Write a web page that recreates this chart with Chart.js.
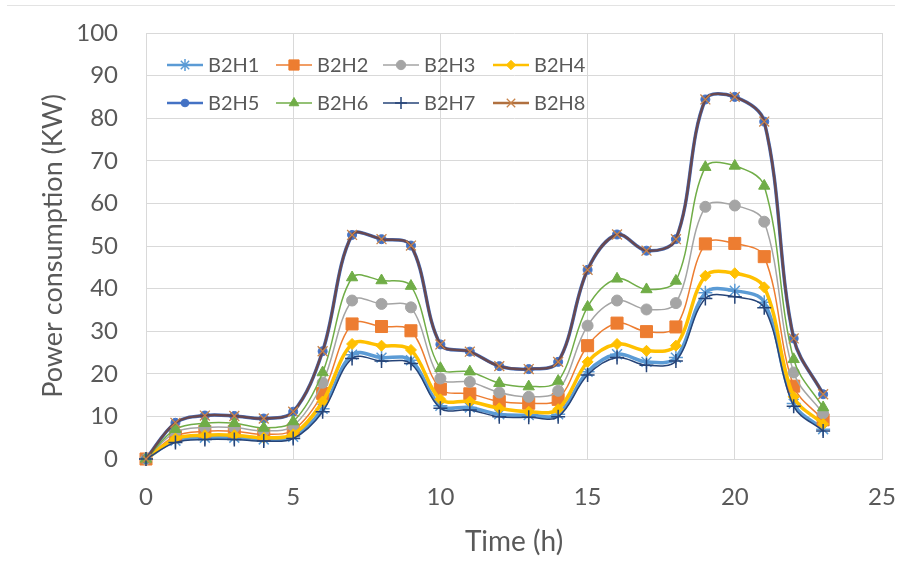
<!DOCTYPE html>
<html lang="en">
<head>
    <meta charset="UTF-8">
    <title>Power consumption</title>
    <script src="https://cdn.jsdelivr.net/npm/chart.js"></script>
    <style>
        body { margin: 0; background: #fff; }
        .wrap { position: relative; width: 903px; height: 577px; }
        .topline { position: absolute; left: 7px; right: 8px; top: 5px; height: 1px; background: #e3e3e3; }
    </style>
</head>
<body>
    <div class="wrap">
        <div class="topline"></div>
        <canvas id="powerChart" width="903" height="577"></canvas>
    </div>

    <script>
        // Hours of the day
        const hours = [0, 1, 2, 3, 4, 5, 6, 7, 8, 9, 10, 11, 12, 13, 14, 15, 16, 17, 18, 19, 20, 21, 22, 23];

        // Power consumption per building (KW)
        const b2h1 = [0, 4.3, 5.0, 5.0, 4.6, 5.2, 11.8, 24.5, 23.8, 23.2, 12.5, 12.1, 10.5, 10.3, 10.5, 20.5, 24.6, 22.8, 23.8, 39.0, 39.5, 36.8, 13.0, 7.0];
        const b2h2 = [0, 5.4, 6.5, 6.5, 5.8, 6.8, 15.4, 31.7, 31.1, 30.1, 16.4, 15.3, 13.5, 13.1, 14.0, 26.6, 31.9, 29.9, 31.0, 50.5, 50.6, 47.5, 17.1, 9.2];
        const b2h3 = [0, 6.3, 7.4, 7.4, 6.6, 7.8, 17.9, 37.2, 36.4, 35.6, 18.9, 18.1, 15.6, 14.6, 16.0, 31.3, 37.2, 35.1, 36.6, 59.2, 59.5, 55.7, 20.3, 10.7];
        const b2h4 = [0, 4.8, 5.6, 5.6, 5.0, 5.8, 13.5, 27.0, 26.6, 25.6, 14.0, 13.5, 11.9, 11.1, 11.7, 22.8, 27.0, 25.4, 26.6, 43.0, 43.6, 40.3, 14.6, 8.2];
        const b2h5 = [0, 8.5, 10.2, 10.1, 9.5, 11.1, 25.3, 52.6, 51.6, 50.1, 26.9, 25.2, 21.8, 21.1, 22.8, 44.4, 52.7, 48.9, 51.6, 84.4, 85.0, 79.2, 28.3, 15.2];
        const b2h6 = [0, 7.0, 8.4, 8.4, 7.3, 8.8, 20.3, 42.6, 41.9, 40.6, 21.3, 20.5, 17.8, 17.0, 18.3, 35.7, 42.3, 39.8, 41.8, 68.5, 68.8, 64.1, 23.4, 12.1];
        const b2h7 = [0, 3.9, 4.6, 4.6, 4.2, 4.8, 11.1, 23.6, 23.0, 22.4, 11.9, 11.5, 9.9, 9.8, 9.9, 19.7, 23.8, 22.0, 23.0, 37.7, 38.1, 35.5, 12.4, 6.6];
        const b2h8 = [0, 8.5, 10.2, 10.1, 9.5, 11.1, 25.3, 52.6, 51.6, 50.1, 26.9, 25.2, 21.8, 21.1, 22.8, 44.4, 52.7, 48.9, 51.6, 84.4, 85.0, 79.2, 28.3, 15.2];

        const seriesNames = ['B2H1', 'B2H2', 'B2H3', 'B2H4', 'B2H5', 'B2H6', 'B2H7', 'B2H8'];
        const seriesValues = [b2h1, b2h2, b2h3, b2h4, b2h5, b2h6, b2h7, b2h8];

        const xTicks = [0, 5, 10, 15, 20, 25];
        const yTicks = [0, 10, 20, 30, 40, 50, 60, 70, 80, 90, 100];

        // Look of each series (Excel style markers)
        const styles = [
            { line: '#5B9BD5', width: 3.5, point: 'star', radius: 7, fill: '#5B9BD5', stroke: '#5B9BD5', pw: 1.5 },
            { line: '#ED7D31', width: 1.5, point: 'rect', radius: 8.5, fill: '#ED7D31', stroke: '#ED7D31', pw: 1 },
            { line: '#A5A5A5', width: 1.5, point: 'circle', radius: 5.5, fill: '#A5A5A5', stroke: '#A5A5A5', pw: 1 },
            { line: '#FFC000', width: 3.5, point: 'rectRot', radius: 5.5, fill: '#FFC000', stroke: '#FFC000', pw: 1 },
            { line: '#4472C4', width: 3.5, point: 'circle', radius: 4.5, fill: '#4472C4', stroke: '#4472C4', pw: 1 },
            { line: '#70AD47', width: 1.5, point: 'triangle', radius: 6.5, fill: '#70AD47', stroke: '#70AD47', pw: 1 },
            { line: '#264478', width: 1.5, point: 'cross', radius: 7, fill: '#264478', stroke: '#264478', pw: 1.5 },
            { line: 'rgba(110,65,60,0.85)', width: 2.5, point: 'crossRot', radius: 7, fill: '#c8834a', stroke: '#c8834a', pw: 1.3 }
        ];

        const datasets = seriesNames.map((name, i) => ({
            label: name,
            data: seriesValues[i].map((v, k) => ({ x: hours[k], y: v })),
            borderColor: styles[i].line,
            borderWidth: styles[i].width,
            pointStyle: styles[i].point,
            pointRadius: styles[i].radius,
            pointBackgroundColor: styles[i].fill,
            pointBorderColor: styles[i].stroke,
            pointBorderWidth: styles[i].pw,
            tension: 0.35,
            clip: false,
            order: seriesNames.length - i // later series drawn on top, like Excel
        }));

        // Legend drawn inside the plot area, 2 rows of 4
        const insideLegend = {
            id: 'insideLegend',
            afterDatasetsDraw(chart) {
                const ctx = chart.ctx;
                const area = chart.chartArea;
                const cols = [21, 130, 237, 347];
                const rows = [32, 70];
                ctx.save();
                ctx.font = '20px Lato';
                ctx.textBaseline = 'middle';
                chart.data.datasets.forEach((ds, i) => {
                    const x = area.left + cols[i % 4];
                    const y = area.top + rows[Math.floor(i / 4)];
                    const st = styles[i];
                    ctx.strokeStyle = i === 7 ? '#b0703f' : st.line;
                    ctx.lineWidth = Math.min(st.width, 2.5);
                    ctx.beginPath();
                    ctx.moveTo(x, y);
                    ctx.lineTo(x + 36, y);
                    ctx.stroke();
                    ctx.fillStyle = st.fill;
                    ctx.strokeStyle = st.stroke;
                    ctx.lineWidth = st.pw;
                    Chart.helpers.drawPoint(ctx, {
                        pointStyle: st.point, radius: st.radius * 0.85, rotation: 0, borderWidth: st.pw
                    }, x + 18, y);
                    ctx.fillStyle = '#595959';
                    ctx.fillText(ds.label, x + 41, y + 1);
                });
                ctx.restore();
            }
        };

        const ctx = document.getElementById('powerChart').getContext('2d');
        const powerChart = new Chart(ctx, {
            type: 'line',
            data: { datasets },
            options: {
                responsive: false,
                animation: false,
                layout: { padding: { left: 0, right: 21, top: 33, bottom: 0 } },
                plugins: {
                    legend: { display: false },
                    tooltip: { enabled: false }
                },
                scales: {
                    // label gap comes from invisible tick marks: ticks.padding also
                    // inflates the plot margins, tickLength does not
                    x: {
                        type: 'linear',
                        min: 0,
                        max: 25,
                        afterBuildTicks: (scale) => { scale.ticks = xTicks.map(v => ({ value: v })); },
                        afterFit: (scale) => { scale.height = 118; },
                        grid: { color: '#d9d9d9', tickColor: 'rgba(0,0,0,0)', tickLength: 21 },
                        border: { color: '#d9d9d9' },
                        ticks: { color: '#595959', font: { family: 'Lato', size: 24 }, padding: 3, maxRotation: 0 },
                        title: {
                            display: true,
                            text: 'Time (h)',
                            color: '#595959',
                            font: { family: 'Lato', size: 28 },
                            padding: { top: 0, bottom: 18 }
                        }
                    },
                    y: {
                        min: 0,
                        max: 100,
                        afterBuildTicks: (scale) => { scale.ticks = yTicks.map(v => ({ value: v })); },
                        afterFit: (scale) => { scale.width = 146; },
                        grid: { color: '#d9d9d9', tickColor: 'rgba(0,0,0,0)', tickLength: 25 },
                        border: { color: '#d9d9d9' },
                        ticks: { color: '#595959', font: { family: 'Lato', size: 24 }, padding: 3 },
                        title: {
                            display: true,
                            text: 'Power consumption (KW)',
                            color: '#595959',
                            font: { family: 'Lato', size: 27 },
                            padding: { top: 37, bottom: 0 }
                        }
                    }
                }
            },
            plugins: [insideLegend]
        });
    </script>
</body>
</html>
